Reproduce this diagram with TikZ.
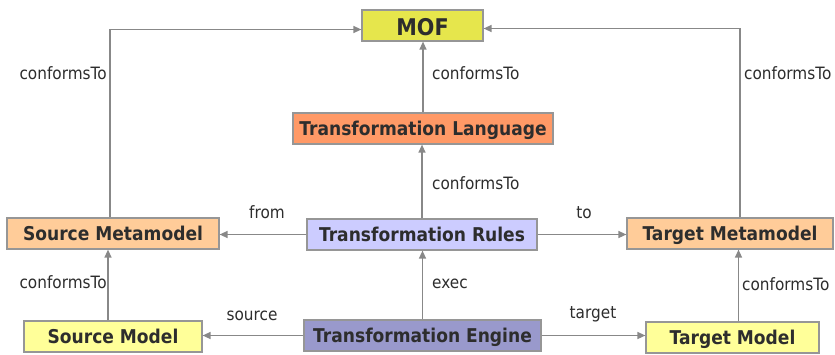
\documentclass[tikz,border=0pt]{standalone}
\usepackage{fontspec}
\setmainfont{DejaVu Sans}[FakeStretch=0.9]
\usetikzlibrary{arrows.meta}
\definecolor{mofc}{RGB}{230,230,76}
\definecolor{tlc}{RGB}{255,153,102}
\definecolor{trc}{RGB}{204,204,255}
\definecolor{mmc}{RGB}{255,204,153}
\definecolor{mc}{RGB}{255,255,153}
\definecolor{tec}{RGB}{153,153,204}
\definecolor{bordc}{RGB}{150,150,150}
\definecolor{linec}{RGB}{136,136,136}
\definecolor{txtc}{RGB}{45,45,45}
\begin{document}
\begin{tikzpicture}[x=1pt,y=-1pt,
  box/.style={draw=bordc,line width=1.2pt,inner sep=0pt,text=txtc,
    text height=16pt,text depth=2pt,
    font=\fontsize{19}{19}\selectfont\bfseries},
  lbl/.style={inner sep=0pt,text=txtc,font=\fontsize{17}{17}\selectfont},
  arr/.style={draw=linec,line width=1.3pt,-{Triangle[length=8pt,width=7pt]}}]
\useasboundingbox (0,0) rectangle (835,354);
% boxes
\node[box,fill=mofc,minimum width=121pt,minimum height=31pt,text height=20pt,text depth=1pt,font=\fontsize{23}{23}\selectfont\bfseries] (mof) at (422.5,25.5) {MOF};
\node[box,fill=tlc,minimum width=260pt,minimum height=31pt] (tl) at (423,128.5) {Transformation Language};
\node[box,fill=trc,minimum width=230pt,minimum height=31pt] (tr) at (422,234.5) {Transformation Rules};
\node[box,fill=mmc,minimum width=212pt,minimum height=31pt] (smm) at (113,233.5) {Source Metamodel};
\node[box,fill=mmc,minimum width=206pt,minimum height=31pt] (tmm) at (730,233.5) {Target Metamodel};
\node[box,fill=mc,minimum width=178pt,minimum height=31pt] (sm) at (113,336.5) {Source Model};
\node[box,fill=tec,minimum width=237pt,minimum height=31pt] (te) at (422.5,335.5) {Transformation Engine};
\node[box,fill=mc,minimum width=173pt,minimum height=31pt] (tm) at (732.5,337.5) {Target Model};
% helper coordinates
\coordinate (smmtop) at ([xshift=-3pt]smm.north);
\coordinate (tmmtop) at ([xshift=10pt]tmm.north);
\coordinate (mofw) at ([yshift=-4pt]mof.west);
\coordinate (mofe) at ([yshift=-3pt]mof.east);
\coordinate (smtop) at ([xshift=-5pt]sm.north);
\coordinate (tmtop) at ([xshift=6pt]tm.north);
% connectors
\draw[arr] (smmtop) |- (mofw);
\draw[arr] (tmmtop) |- (mofe);
\draw[arr] (tl.north) -- (tl.north |- mof.south);
\draw[arr] (tr.north) -- (tr.north |- tl.south);
\draw[arr] (tr.west) -- (tr.west -| smm.east);
\draw[arr] (tr.east) -- (tr.east -| tmm.west);
\draw[arr] (te.north) -- (te.north |- tr.south);
\draw[arr] (smtop) -- (smtop |- smm.south);
\draw[arr] (tmtop) -- (tmtop |- tmm.south);
\draw[arr] (te.west) -- (te.west -| sm.east);
\draw[arr] (te.east) -- (te.east -| tm.west);
% labels
\node[lbl,anchor=east] (l1) at (107,73) {conformsTo};
\node[lbl,anchor=west] (l2) at (432,73) {conformsTo};
\node[lbl,anchor=west] (l3) at (744,73) {conformsTo};
\node[lbl,anchor=west] (l4) at (432,183) {conformsTo};
\node[lbl] (l5) at (267,212) {from};
\node[lbl] (l6) at (584,213) {to};
\node[lbl,anchor=west] (l7) at (432,284) {exec};
\node[lbl,anchor=east] (l8) at (107,282) {conformsTo};
\node[lbl,anchor=west] (l9) at (742,284) {conformsTo};
\node[lbl] (l10) at (252,316) {source};
\node[lbl] (l11) at (593,314) {target};
\end{tikzpicture}
\end{document}
